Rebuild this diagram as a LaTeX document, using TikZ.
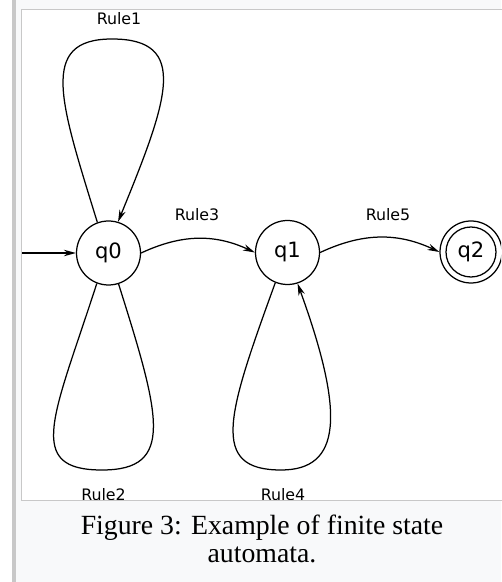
\documentclass[tikz,border=0pt]{standalone}
\usepackage{fontspec}
\usetikzlibrary{arrows.meta}
\newfontfamily\diagfont{DejaVu Sans}
\newfontfamily\capfont{Liberation Serif}
\definecolor{framegray}{HTML}{C8C8C8}
\definecolor{capgray}{HTML}{F8F9FA}
\tikzset{
  statenode/.style={draw,circle,minimum size=12.8mm,inner sep=0pt,font=\diagfont\fontsize{12}{14}\selectfont},
  rulelabel/.style={anchor=base,inner sep=0pt,font=\diagfont\fontsize{9}{11}\selectfont},
  caption/.style={anchor=base,inner sep=0pt,font=\capfont\fontsize{15.8}{19}\selectfont},
}
\begin{document}
\begin{tikzpicture}[>={Stealth[length=2.4mm,width=1.3mm]},x=0.2mm,y=0.2mm,line width=0.25mm]
	\useasboundingbox (0,0) rectangle (501,582);
	%\draw[help lines] (0,0) grid[step=50] (501,582);
	\fill[white] (0,0) rectangle (12,582);
	\fill[framegray] (12,0) rectangle (16,582);
	\fill[capgray] (16,0) rectangle (501,582);
	\filldraw[fill=white,draw=framegray,line width=0.2mm] (21.5,81.5) rectangle (510,572.5);
	\begin{scope}
		\clip (22,82) rectangle (501,572);
		\node[statenode] (q0) at (108.5,329) {q0};
		\node[statenode] (q1) at (287.5,329.5) {q1};
		\node[statenode,minimum size=12.4mm] (q2) at (471,330) {q2};
		\draw (q2.center) circle[radius=25];
		\coordinate (init) at (22,329);
		\draw[->] (init) -- (q0);
		% loops
		\draw[->] (q0.110) .. controls +(-37,120) and (38,543) .. (112,543)%
		.. controls (190,543) and +(50,122) .. (q0.73);
		\draw (q0.249) .. controls +(-43,-133) and (24,112) .. (102,112)%
		.. controls (175,112) and +(42,-133) .. (q0.288);
		\draw[->] (q1.248) .. controls +(-48,-132) and (209,112) .. (281,112)%
		.. controls (341,112) and +(48,-132) .. (q1.288);
		% transitions
		\draw[->] (q0.east) to[out=25,in=155] (q1.west);
		\draw[->] (q1.east) to[out=25,in=155] (q2.west);
		\node[rulelabel] (r1) at (119,557) {Rule1};
		\node[rulelabel] (r2) at (103.5,81) {Rule2};
		\node[rulelabel] (r3) at (197,361) {Rule3};
		\node[rulelabel] (r4) at (283,81) {Rule4};
		\node[rulelabel] (r5) at (388,361) {Rule5};
	\end{scope}
	\node[caption] (cap1) at (262,47.7) {Figure 3: Example of finite state};
	\node[caption] (cap2) at (262,19) {automata.};
\end{tikzpicture}
\end{document}
